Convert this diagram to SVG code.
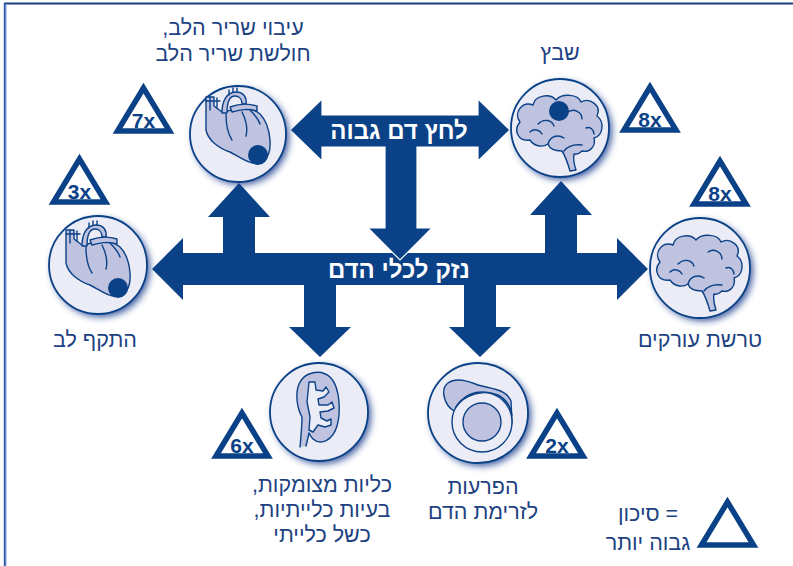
<svg xmlns="http://www.w3.org/2000/svg" xmlns:xlink="http://www.w3.org/1999/xlink" width="793" height="566" viewBox="0 0 793 566">
  <style>
    .lbl { font-family: "Liberation Sans", "DejaVu Sans", sans-serif; font-size: 21.5px; fill: #1d4282; text-anchor: middle; direction: rtl; }
    .big { font-family: "Liberation Sans", "DejaVu Sans", sans-serif; font-size: 24px; font-weight: bold; fill: #ffffff; text-anchor: middle; direction: rtl; }
    .tri { fill: #ffffff; stroke: #0b4187; stroke-width: 5.5; stroke-linejoin: miter; }
    .tt { font-family: "Liberation Sans", "DejaVu Sans", sans-serif; font-size: 21px; font-weight: bold; fill: #0b4187; text-anchor: middle; }
    .disc { fill: #ebecf5; stroke: #0b4187; stroke-width: 1.8; }
    .halo { fill: #1f3d8e; filter: url(#soft); opacity: 0.85; }
    .ic { fill: #bfc3e0; stroke: #0b4187; stroke-width: 1.4; stroke-linejoin: round; stroke-linecap: round; }
    .ln { fill: none; stroke: #0b4187; stroke-width: 1.4; stroke-linecap: round; stroke-linejoin: round; }
    .bg { fill: #ebecf5; stroke: #0b4187; stroke-width: 1.4; stroke-linejoin: round; }
    .dot { fill: #0b4187; }
    .arrow { fill: #0b4187; }
  </style>
  <defs>
    <filter id="soft" x="-30%" y="-30%" width="160%" height="160%">
      <feGaussianBlur stdDeviation="3.5"/>
    </filter>
    <!-- warning triangle, origin at bottom centre -->
    <path id="tri" d="M0,-46 L-26,-3 L26,-3 Z"/>
    <!-- heart icon, origin at disc centre -->
    <g id="heart">
      <path class="ic" d="M-32,-37 L-32,-4 C-30,6 -20,14 -8,18 C0,22 8,28 15,29 C28,31 33,20 32,6 C31,-6 28,-14 22,-20 C16,-25 10,-26 4,-26 L-16,-22 L-24,-28 L-24,-37 Z"/>
      <path class="ln" d="M-28,-37 L-28,-24 M-32,-33 L-18,-33 M-21,-36 L-21,-26"/>
      <path class="ic" d="M-16,-21 C-16,-32 -12,-42 -2,-42 C6,-42 9,-36 8,-30 L4,-30 C4,-35 1,-38 -3,-38 C-9,-38 -11,-30 -11,-21 Z"/>
      <path class="ln" d="M-9,-39 L-9,-44 M-5,-42 L-5,-46 M-1,-42 L-1,-46"/>
      <path class="ic" d="M-8,-27 C0,-30 10,-31 19,-28 L19,-23 C10,-26 2,-24 -6,-22 Z"/>
      <path class="ln" d="M-12,-20 C-12,-8 -10,0 -6,6 M4,-22 C8,-14 10,-6 8,2 M12,-24 C16,-20 20,-16 22,-10"/>
      <circle class="dot" cx="20" cy="21" r="10"/>
    </g>
    <!-- brain icon, origin at disc centre -->
    <g id="brain">
      <path class="ic" d="M-30,12 C-42,14 -47,2 -40,-6 C-47,-15 -38,-27 -27,-23 C-25,-33 -10,-35 -4,-28 C2,-35 18,-34 21,-26 C30,-31 42,-22 37,-12 C45,-6 43,8 34,10 C36,18 30,25 22,23 C18,27 14,26 14,26 C13,31 14,36 16,42 L10,43 C8,36 6,29 2,23 C-4,23 -10,22 -12,16 C-18,20 -26,18 -30,12 Z"/>
      <path class="ln" d="M-12,16 C-10,8 -2,6 4,10 M-22,-4 C-16,-10 -8,-8 -6,-2 M8,-16 C14,-20 22,-16 22,-9 M4,23 C8,18 14,16 22,17 M-30,4 C-26,0 -20,2 -18,6 M26,0 C30,-2 34,2 34,6"/>
    </g>
  </defs>

  <rect width="793" height="566" fill="#ffffff"/>

  <!-- frame -->
  <line x1="4" y1="3.5" x2="793" y2="3.5" stroke="#1b3f7a" stroke-width="2"/>
  <line x1="4.8" y1="3" x2="4.8" y2="566" stroke="#2a58a8" stroke-width="2"/>
  <line x1="6.3" y1="4" x2="6.3" y2="566" stroke="#a9c3ea" stroke-width="1"/>

  <!-- connectors -->
  <g id="connectors">
    <path class="arrow" d="M152,269 L183,238 L183,253 L223,253 L223,217 L208,217 L239,183 L270,217 L255,217 L255,253 L545,253 L545,215 L530,215 L561,181 L592,215 L577,215 L577,253 L617,253 L617,238 L648,269 L617,300 L617,285 L496,285 L496,327 L511,327 L480,357 L449,327 L464,327 L464,285 L336,285 L336,327 L351,327 L320,357 L289,327 L304,327 L304,285 L183,285 L183,300 Z"/>
    <path class="arrow" stroke="#ffffff" stroke-width="1.2" stroke-linejoin="miter" d="M290,130 L322,99 L322,115 L478,115 L478,99 L510,130 L478,161 L478,147 L417,147 L417,228 L432,228 L400,260 L368,228 L385,228 L385,147 L322,147 L322,161 Z"/>
    <text class="big" x="399" y="139">לחץ דם גבוה</text>
    <text class="big" x="399" y="278">נזק לכלי הדם</text>
  </g>

  <!-- thickened heart muscle / heart failure -->
  <g id="node-heart-top">
    <circle class="halo" cx="241" cy="137" r="48"/>
    <circle class="disc" cx="238" cy="134" r="48"/>
    <use href="#heart" transform="translate(238,134)"/>
    <text class="lbl" x="233" y="35">עיבוי שריר הלב,</text>
    <text class="lbl" x="233" y="61">חולשת שריר הלב</text>
    <use href="#tri" class="tri" transform="translate(143.5,134)"/>
    <text class="tt" x="143.5" y="127.5">7x</text>
  </g>

  <!-- stroke -->
  <g id="node-stroke">
    <circle class="halo" cx="563" cy="131" r="49"/>
    <circle class="disc" cx="560" cy="128" r="49"/>
    <use href="#brain" transform="translate(560,128)"/>
    <circle class="dot" cx="559" cy="111" r="10"/>
    <text class="lbl" x="560" y="60">שבץ</text>
    <use href="#tri" class="tri" transform="translate(650,133)"/>
    <text class="tt" x="650" y="126.5">8x</text>
  </g>

  <!-- heart attack -->
  <g id="node-heart-left">
    <circle class="halo" cx="101" cy="268" r="49"/>
    <circle class="disc" cx="98" cy="265" r="49"/>
    <use href="#heart" transform="translate(98,267)"/>
    <text class="lbl" x="95" y="347">התקף לב</text>
    <use href="#tri" class="tri" transform="translate(79.5,205)"/>
    <text class="tt" x="79.5" y="198.5">3x</text>
  </g>

  <!-- atherosclerosis -->
  <g id="node-brain-right">
    <circle class="halo" cx="703" cy="271" r="50"/>
    <circle class="disc" cx="700" cy="268" r="50"/>
    <use href="#brain" transform="translate(700,268)"/>
    <text class="lbl" x="700" y="347">טרשת עורקים</text>
    <use href="#tri" class="tri" transform="translate(720,207)"/>
    <text class="tt" x="720" y="200.5">8x</text>
  </g>

  <!-- kidney damage -->
  <g id="node-kidney">
    <circle class="halo" cx="322" cy="415" r="49"/>
    <circle class="disc" cx="319" cy="412" r="49"/>
    <g transform="translate(319,412)">
      <path d="M-17,5 C-22,-4 -24,-18 -20,-28 C-15,-40 2,-44 12,-34 C21,-24 22,0 18,14 C14,28 2,34 -6,27 C-8,25 -9,23 -10,21 L-13,34 L-19,35 Z" fill="#bfc3e0"/>
      <path class="ln" d="M-19,35 C-18,24 -17,14 -17,5 C-22,-4 -24,-18 -20,-28 C-15,-40 2,-44 12,-34 C21,-24 22,0 18,14 C14,28 2,34 -6,27 C-8,25 -9,23 -10,21 C-11,26 -12,30 -13,34"/>
      <path class="bg" d="M-10,-30 L-4,-30 L-3,-22 L4,-21 L7,-25 L10,-20 L5,-15 L-1,-13 L0,-7 L9,-7 L13,-10 L15,-4 L9,-1 L1,0 L2,6 L8,9 L12,7 L12,13 L6,15 L-1,13 L-6,20 L-10,18 L-9,5 L-12,-10 Z"/>
    </g>
    <text class="lbl" x="322" y="492">כליות מצומקות,</text>
    <text class="lbl" x="322" y="517">בעיות כלייתיות,</text>
    <text class="lbl" x="322" y="542">כשל כלייתי</text>
    <use href="#tri" class="tri" transform="translate(242,459)"/>
    <text class="tt" x="242" y="452.5">6x</text>
  </g>

  <!-- blood flow disorders -->
  <g id="node-vessel">
    <circle class="halo" cx="481" cy="416" r="50"/>
    <circle class="disc" cx="478" cy="413" r="50"/>
    <g transform="translate(478,413)">
      <path class="ic" d="M-24,-2 C-34,-8 -38,-24 -30,-30 C-22,-36 -10,-32 0,-28 C14,-24 28,-24 33,-12 L34,10 L-20,14 Z"/>
      <circle class="bg" cx="4" cy="9" r="30"/>
      <path class="ln" d="M-22,-6 C-14,-18 4,-24 20,-18 C28,-14 33,-6 34,2"/>
      <circle class="ic" cx="4" cy="9" r="19"/>
    </g>
    <text class="lbl" x="483" y="494">הפרעות</text>
    <text class="lbl" x="483" y="519">לזרימת הדם</text>
    <use href="#tri" class="tri" transform="translate(557,459)"/>
    <text class="tt" x="557" y="452.5">2x</text>
  </g>

  <!-- legend -->
  <g id="legend">
    <use href="#tri" class="tri" transform="translate(727.5,548)"/>
    <text class="lbl" x="648" y="521">= סיכון</text>
    <text class="lbl" x="648" y="550">גבוה יותר</text>
  </g>
</svg>
